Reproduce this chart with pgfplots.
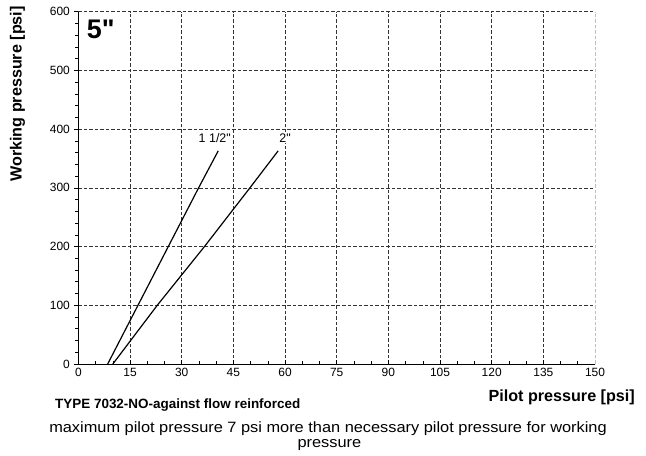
\documentclass[border=0pt]{standalone}
\usepackage{graphicx}
\usepackage{pgfplots}
\pgfplotsset{compat=1.18}
\usepackage{fontspec}
\setmainfont{Liberation Sans}
\begin{document}
\begin{tikzpicture}
\path[use as bounding box] (-78.4bp,-92bp) rectangle (567.6bp,364bp);
\begin{axis}[
  scale only axis,
  width=516.6bp, height=352.3bp,
  xmin=0, xmax=150, ymin=0, ymax=600,
  xtick={0,15,...,150}, ytick={0,100,...,600},
  minor xtick={5,10,20,25,35,40,50,55,65,70,80,85,95,100,110,115,125,130,140,145},
  minor ytick={20,40,60,80,120,140,160,180,220,240,260,280,320,340,360,380,420,440,460,480,520,540,560,580},
  axis x line*=bottom, axis y line*=left,
  axis line style={-, line width=0.8pt},
  x tick style={black, line width=0.6pt}, y tick style={black, line width=0.6pt},
  xtick align=inside, ytick align=outside,
  major tick length=4bp, minor tick length=3bp,
  grid=major,
  major grid style={dash pattern=on 3.5bp off 2bp, black!80, line width=0.6pt},
  tick label style={font=\fontsize{12}{14}\selectfont},
  /pgf/number format/assume math mode=true,
  xticklabel style={yshift=-0.5bp},
  yticklabel style={xshift=-1bp},
  clip=false,
]
\draw[dash pattern=on 3.5bp off 2bp, black!25, line width=0.8pt] (axis cs:150,0) -- (axis cs:150,600);
\addplot[black, line width=1.2pt] coordinates {(8.5,0) (17.3,100) (26.1,200) (34.9,300) (40.6,363)};
\addplot[black, line width=1.2pt] coordinates {(10.0,0) (22.9,100) (36.6,200) (49.8,300) (58.0,363)};
\node[fill=white, inner sep=1pt, anchor=base, font=\fontsize{12.5}{14}\selectfont] at (axis cs:39.6,378) {1 1/2\textquotedbl};
\node[fill=white, inner sep=1pt, anchor=base, font=\fontsize{12.5}{14}\selectfont] at (axis cs:60,378) {2\textquotedbl};
\node[font=\fontsize{27}{30}\selectfont\bfseries, anchor=base west, inner sep=0pt] at (axis cs:2.4,555) {5\textquotedbl};
\end{axis}
\node[rotate=90, font=\fontsize{16.2}{18}\selectfont\bfseries] at (-61bp,270bp) {Working pressure [psi]};
\node[anchor=base east, inner sep=0pt, font=\fontsize{16.2}{18}\selectfont\bfseries] at (556.6bp,-37bp) {Pilot pressure [psi]};
\node[anchor=base west, inner sep=0pt, font=\fontsize{13.5}{15}\selectfont\bfseries] at (-23.4bp,-44bp) {TYPE 7032-NO-against flow reinforced};
\node[anchor=base, inner sep=0pt, font=\fontsize{15}{15}\selectfont] at (249.6bp,-68bp) {\scalebox{1.095}[1]{maximum pilot pressure 7 psi more than necessary pilot pressure for working}};
\node[anchor=base, inner sep=0pt, font=\fontsize{15}{15}\selectfont] at (251bp,-83bp) {\scalebox{1.095}[1]{pressure}};
\end{tikzpicture}
\end{document}
